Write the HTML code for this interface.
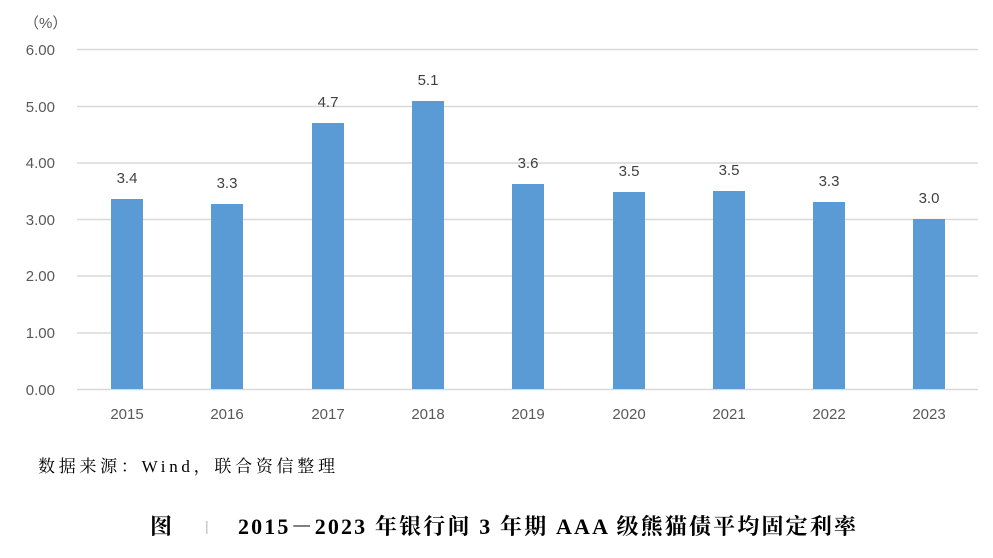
<!DOCTYPE html>
<html><head><meta charset="utf-8"><style>
body{margin:0;background:#fff;}
svg{display:block}
</style></head><body>
<svg width="993" height="558" xmlns="http://www.w3.org/2000/svg">
<g stroke="#d9d9d9" stroke-width="1.5">
<line x1="77" y1="49.5" x2="978" y2="49.5"/>
<line x1="77" y1="106.5" x2="978" y2="106.5"/>
<line x1="77" y1="163" x2="978" y2="163"/>
<line x1="77" y1="219.5" x2="978" y2="219.5"/>
<line x1="77" y1="276" x2="978" y2="276"/>
<line x1="77" y1="333" x2="978" y2="333"/>
<line x1="77" y1="389.5" x2="978" y2="389.5"/>
</g>
<g font-family="Liberation Sans, DejaVu Sans, sans-serif" font-size="15" fill="#595959" text-anchor="end">
<text x="55" y="55">6.00</text><text x="55" y="112">5.00</text><text x="55" y="168">4.00</text>
<text x="55" y="225">3.00</text><text x="55" y="281">2.00</text><text x="55" y="338">1.00</text><text x="55" y="395">0.00</text>
</g>
<text x="24" y="28" font-family="Liberation Sans, 'Noto Sans CJK SC', sans-serif" font-size="15" fill="#595959">（%）</text>
<g fill="#5b9bd5">
<rect x="111" y="199" width="32" height="190"/>
<rect x="211" y="204" width="32" height="185"/>
<rect x="312" y="123" width="32" height="266"/>
<rect x="412" y="101" width="32" height="288"/>
<rect x="512" y="184" width="32" height="205"/>
<rect x="613" y="192" width="32" height="197"/>
<rect x="713" y="191" width="32" height="198"/>
<rect x="813" y="202" width="32" height="187"/>
<rect x="913" y="219" width="32" height="170"/>
</g>
<g font-family="Liberation Sans, DejaVu Sans, sans-serif" font-size="15" fill="#404040" text-anchor="middle">
<text x="127" y="183">3.4</text><text x="227" y="188">3.3</text><text x="328" y="107">4.7</text>
<text x="428" y="85">5.1</text><text x="528" y="168">3.6</text><text x="629" y="176">3.5</text>
<text x="729" y="175">3.5</text><text x="829" y="186">3.3</text><text x="929" y="203">3.0</text>
</g>
<g font-family="Liberation Sans, DejaVu Sans, sans-serif" font-size="15" fill="#595959" text-anchor="middle">
<text x="127" y="419">2015</text><text x="227" y="419">2016</text><text x="328" y="419">2017</text>
<text x="428" y="419">2018</text><text x="528" y="419">2019</text><text x="629" y="419">2020</text>
<text x="729" y="419">2021</text><text x="829" y="419">2022</text><text x="929" y="419">2023</text>
</g>
<text x="38" y="472" font-family="Liberation Serif, 'Noto Serif CJK SC', serif" font-size="17" fill="#000" textLength="297">数据来源：Wind，联合资信整理</text>
<text x="150" y="534" font-family="Liberation Serif, 'Noto Serif CJK SC', serif" font-size="22" font-weight="bold" fill="#000">图</text>
<text x="205" y="531" font-family="Liberation Sans, sans-serif" font-size="14" fill="#bbb">|</text>
<text x="238" y="534" font-family="Liberation Serif, 'Noto Serif CJK SC', serif" font-size="22" font-weight="bold" fill="#000" textLength="618">2015－2023 年银行间 3 年期 AAA 级熊猫债平均固定利率</text>
</svg>
</body></html>
